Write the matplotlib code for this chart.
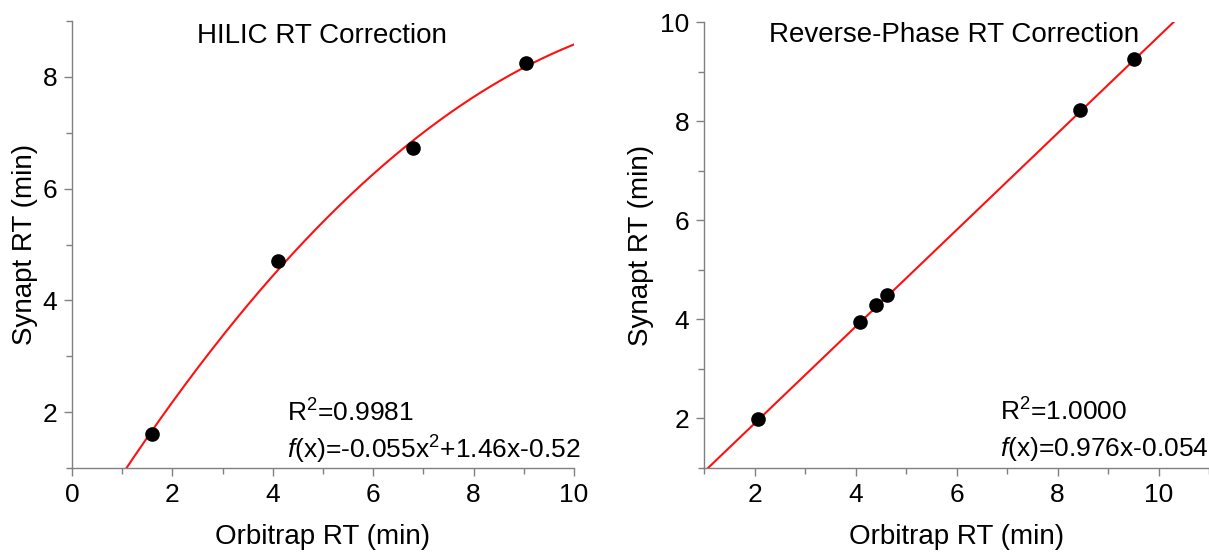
import numpy as np
import matplotlib
matplotlib.use("Agg")
import matplotlib.pyplot as plt
from matplotlib.ticker import MultipleLocator

plt.rcParams['font.family'] = ['Liberation Sans', 'DejaVu Sans']
plt.rcParams['mathtext.fontset'] = 'custom'
plt.rcParams['mathtext.rm'] = 'Liberation Sans'
plt.rcParams['mathtext.it'] = 'Liberation Sans:italic'

# HILIC points and quadratic fit
hilic_x = [1.6, 4.1, 6.8, 9.05]
hilic_y = [1.6, 4.7, 6.72, 8.24]
hilic_fit = [-0.055, 1.46, -0.52]
hilic_r2 = "R$^2$=0.9981"
hilic_eq = "$f$(x)=-0.055x$^2$+1.46x-0.52"

# reverse-phase points and linear fit
rp_x = [2.06, 4.08, 4.4, 4.63, 8.45, 9.52]
rp_y = [1.98, 3.95, 4.28, 4.5, 8.23, 9.26]
rp_fit = [0.976, -0.054]
rp_r2 = "R$^2$=1.0000"
rp_eq = "$f$(x)=0.976x-0.054"

spine_col = '#808080'
fit_col = '#ff1010'

fig = plt.figure(figsize=(12.09, 5.52), dpi=100)
ax1 = fig.add_axes([72/1209, 1-468/552, 502/1209, 447/552])
ax2 = fig.add_axes([704/1209, 1-468/552, 505/1209, 446/552])


def style(ax):
    for s in ['top', 'right']:
        ax.spines[s].set_visible(False)
    for s in ['left', 'bottom']:
        ax.spines[s].set_color(spine_col)
        ax.spines[s].set_linewidth(1.0)
    ax.xaxis.set_major_locator(MultipleLocator(2))
    ax.xaxis.set_minor_locator(MultipleLocator(1))
    ax.yaxis.set_major_locator(MultipleLocator(2))
    ax.yaxis.set_minor_locator(MultipleLocator(1))
    ax.tick_params(which='major', direction='out', length=6, width=1,
                   color=spine_col, labelsize=19, labelcolor='black', pad=4.5)
    ax.tick_params(which='minor', direction='out', length=4, width=1,
                   color=spine_col)
    ax.set_xlabel("Orbitrap RT (min)", fontsize=20)
    ax.set_ylabel("Synapt RT (min)", fontsize=20)
    ax.xaxis.label.set_va('center')
    ax.yaxis.label.set_va('center')


# left panel
style(ax1)
ax1.set_xlim(0, 10)
ax1.set_ylim(1, 9)
xx = np.linspace(0, 10, 400)
ax1.plot(xx, np.polyval(hilic_fit, xx), color=fit_col, lw=1.5, zorder=2)
ax1.plot(hilic_x, hilic_y, 'o', color='black', markersize=9.5, zorder=3)
ax1.text(4.98, 8.73, "HILIC RT Correction", fontsize=20, ha='center', va='center')
ax1.text(4.28, 1.98, hilic_r2, fontsize=19, ha='left', va='center')
ax1.text(4.28, 1.32, hilic_eq, fontsize=19, ha='left', va='center')
ax1.xaxis.set_label_coords(0.5, -0.155)
ax1.yaxis.set_label_coords(-0.094, 0.5)

# right panel
style(ax2)
ax2.set_xlim(1, 11)
ax2.set_ylim(1, 10)
xx = np.linspace(1, 11, 400)
ax2.plot(xx, np.polyval(rp_fit, xx), color=fit_col, lw=1.5, zorder=2)
ax2.plot(rp_x, rp_y, 'o', color='black', markersize=9.5, zorder=3)
ax2.text(5.96, 9.74, "Reverse-Phase RT Correction", fontsize=20, ha='center', va='center')
ax2.text(6.87, 2.12, rp_r2, fontsize=19, ha='left', va='center')
ax2.text(6.87, 1.375, rp_eq, fontsize=19, ha='left', va='center')
ax2.xaxis.set_label_coords(0.5, -0.155)
ax2.yaxis.set_label_coords(-0.125, 0.5)

fig.savefig("out.png", dpi=100, facecolor='white')
